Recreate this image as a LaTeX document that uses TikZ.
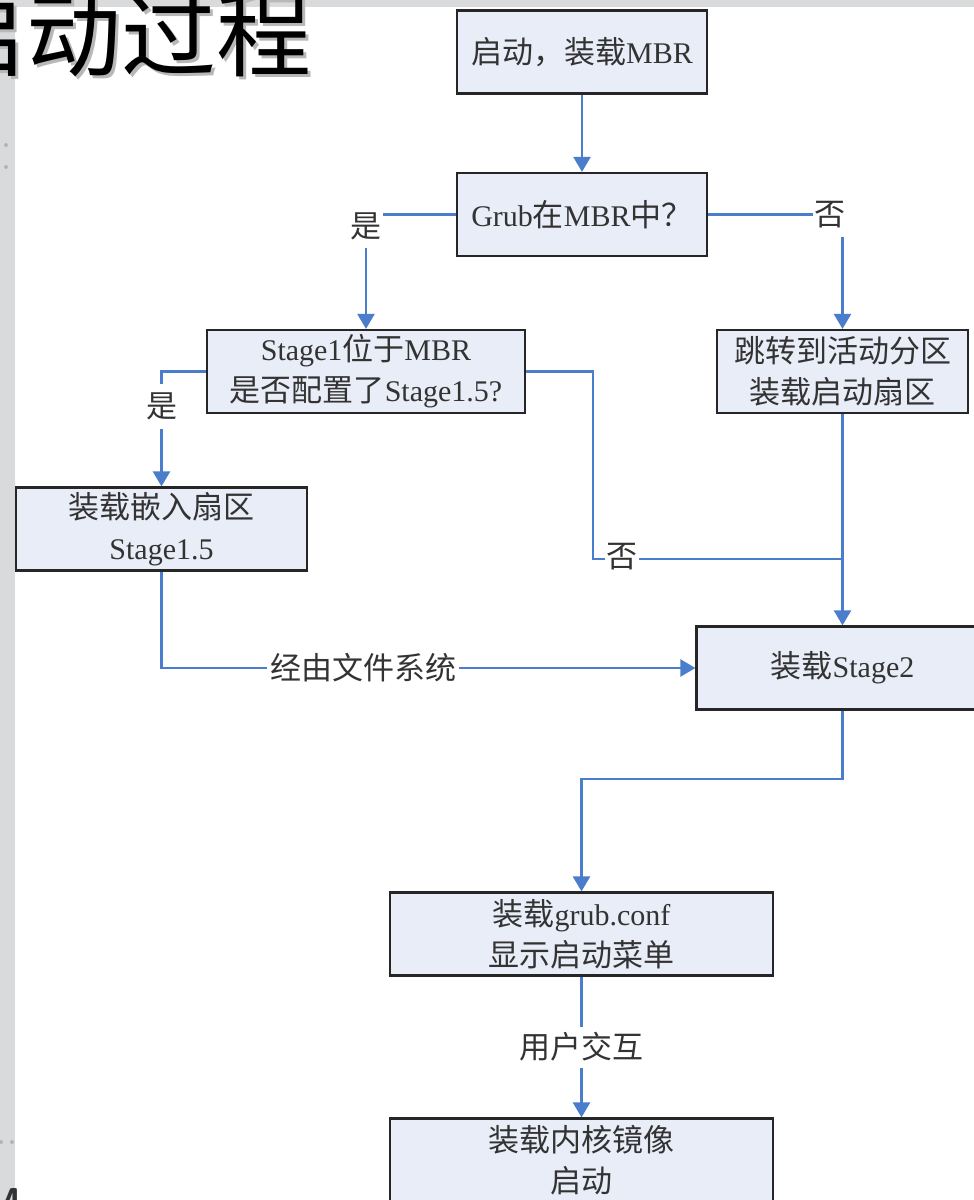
\documentclass[tikz,border=0pt]{standalone}
\usepackage{fontspec}
\setmainfont{Liberation Serif}
\newfontfamily\cjk{Noto Sans CJK SC}
\usetikzlibrary{arrows.meta}
\newcommand{\zh}[1]{{\cjk\fontsize{31}{41}\selectfont #1}}
\definecolor{boxfill}{HTML}{E9EDF7}
\definecolor{arrowblue}{HTML}{4A7DCB}
\definecolor{slidegrey}{HTML}{D9DADC}
\definecolor{dotgrey}{HTML}{B4B5B8}
\tikzset{
  flowbox/.style={draw=black!85, line width=2.2pt, fill=boxfill, minimum height=83pt,
    text=black!80, font=\fontsize{30}{41}\selectfont, align=center, inner sep=0pt},
  conn/.style={draw=arrowblue, line width=2.4pt},
  arr/.style={conn, -{Triangle[width=17pt,length=15pt]}},
  lbl/.style={fill=white, text=black!80, font=\fontsize{30}{35}\selectfont, inner sep=0pt},
  titletext/.style={anchor=base west, inner sep=0pt, font=\cjk\fontsize{95}{95}\selectfont},
  dot/.style={fill=dotgrey, draw=none}
}
\begin{document}
\begin{tikzpicture}[x=1pt, y=-1pt]
\useasboundingbox (0,0) rectangle (974,1200);
\clip (0,0) rectangle (974,1200);
% slide background
\fill[white] (0,0) rectangle (974,1200);
\fill[slidegrey] (0,0) rectangle (15,1200);
\fill[slidegrey] (0,0) rectangle (974,7);
\fill[dot] (6,145) circle (2pt);
\fill[dot] (6,167) circle (2pt);
\fill[dot] (1,1142) circle (2pt);
\fill[dot] (12,1142) circle (2pt);
\node[anchor=north west, inner sep=0pt, text=black!80, font=\sffamily\bfseries\fontsize{36}{36}\selectfont] (mfrag) at (-15,1188) {M};
% title
\node[titletext, text=black!28] (titleshadow) at (-66,72) {启动过程};
\node[titletext, text=black] (title) at (-69,69) {启动过程};
% boxes
\node[flowbox, minimum width=250pt] (b1) at (582,52) {\zh{启动，装载}MBR};
\node[flowbox, minimum width=250pt] (b2) at (582,214.5) {Grub\zh{在}MBR\zh{中？}};
\node[flowbox, minimum width=318pt] (b3) at (366,371.5) {Stage1\zh{位于}MBR\\\zh{是否配置了}Stage1.5?};
\node[flowbox, minimum width=251pt] (b4) at (842.5,371.5) {\zh{跳转到活动分区}\\\zh{装载启动扇区}};
\node[flowbox, minimum width=291pt] (b5) at (161.5,529) {\zh{装载嵌入扇区}\\Stage1.5};
\node[flowbox, minimum width=292pt] (b6) at (842.5,668) {\zh{装载}Stage2};
\node[flowbox, minimum width=383pt] (b7) at (581.5,934) {\zh{装载}grub.conf\\\zh{显示启动菜单}};
\node[flowbox, minimum width=383pt] (b8) at (581.5,1160) {\zh{装载内核镜像}\\\zh{启动}};
% connectors
\draw[arr] (b1) -- (b2);
\draw[arr] (b2.west) -| (b3.north);
\draw[arr] (b2.east) -| (b4.north);
\draw[arr] (b3.west) -| (b5.north);
\draw[arr] (b4.south) -- (b6.north);
\coordinate (k) at (593,559);
\coordinate (j) at (842.5,559);
\draw[conn] (b3.east) -| (k) -- (j);
\draw[arr] (b5.south) |- (b6.west);
\coordinate (m) at (842.5,779);
\draw[arr] (b6.south) -- (m) -| (b7.north);
\draw[arr] (b7) -- (b8);
% labels
\node[lbl, minimum width=34pt, minimum height=44pt] (l1) at (366,226) {\zh{是}};
\node[lbl, minimum width=34pt, minimum height=44pt] (l2) at (830,215) {\zh{否}};
\node[lbl, minimum width=30pt, minimum height=45pt] (l3) at (161.5,406) {\zh{是}};
\node[lbl, minimum width=34pt, minimum height=30pt] (l4) at (622,557) {\zh{否}};
\node[lbl, inner xsep=3pt, minimum height=30pt] (l5) at (363,668) {\zh{经由文件系统}};
\node[lbl, inner xsep=2pt, minimum height=41pt] (l6) at (581.5,1047) {\zh{用户交互}};
\end{tikzpicture}
\end{document}
